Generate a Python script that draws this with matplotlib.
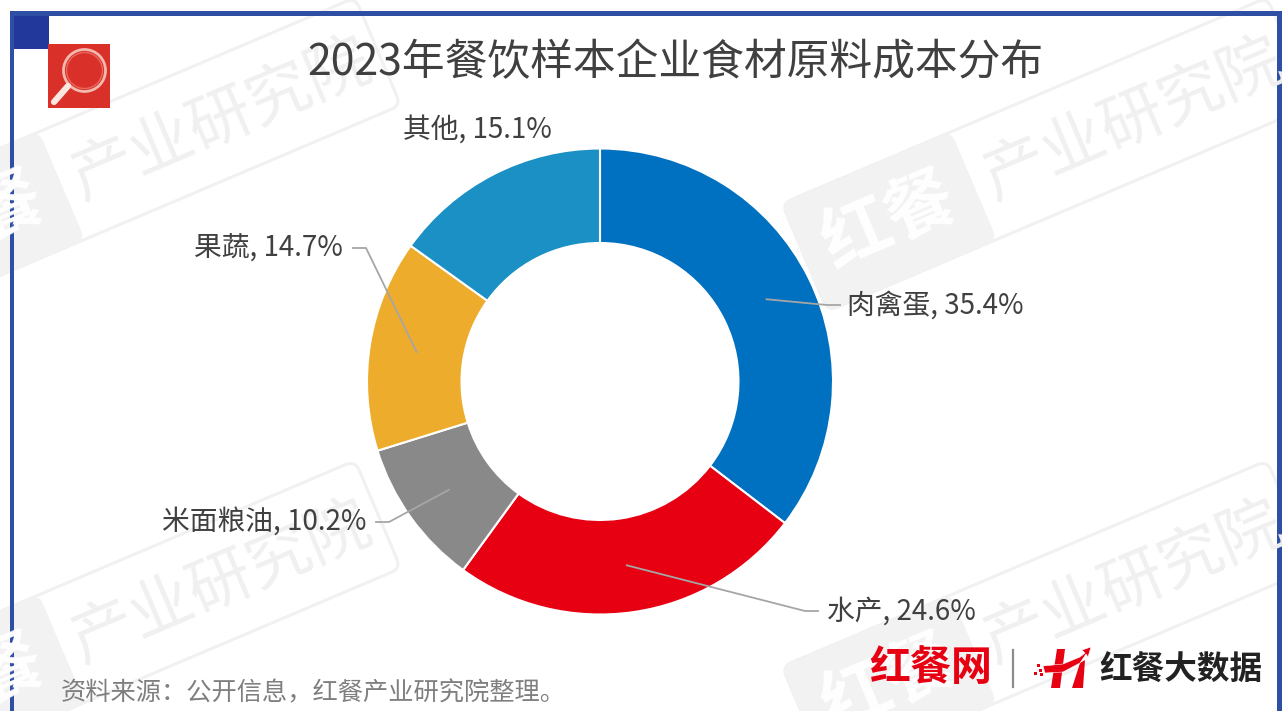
# -*- coding: utf-8 -*-

import numpy as np
import matplotlib
matplotlib.use('Agg')
import matplotlib.pyplot as plt
from matplotlib.patches import Rectangle, Circle, FancyBboxPatch, Polygon
from matplotlib.transforms import Affine2D

plt.rcParams['font.family'] = ['Noto Sans CJK SC', 'DejaVu Sans']

# 数据
categories = ['肉禽蛋', '水产', '米面粮油', '果蔬', '其他']
values = [35.4, 24.6, 10.2, 14.7, 15.1]
colors = ['#0070c0', '#e60012', '#898989', '#edac2c', '#1a90c4']

title = '2023年餐饮样本企业食材原料成本分布'
source = '资料来源：公开信息，红餐产业研究院整理。'

W, H = 1282, 711
CX, CY, R, R_IN = 600, 381.5, 233, 138.5
WM_ANGLE = 23

# 标签位置, 引线终点
label_pos = [(847, 306, 'left'), (827, 612, 'left'), (366, 523, 'right'),
             (343, 249, 'right'), (552, 130, 'right')]
line_ends = [(840, 305), (818, 611), (376, 522), (353, 248), None]

fig = plt.figure(figsize=(W / 100, H / 100), dpi=100)


def pixel_axes(z):
    ax = fig.add_axes([0, 0, 1, 1], zorder=z)
    ax.set_xlim(0, W)
    ax.set_ylim(H, 0)
    ax.axis('off')
    ax.patch.set_alpha(0)
    return ax


bg = pixel_axes(0)
top = pixel_axes(2)


# 水印
def watermark(ax, dx, dy):
    x0, y0 = 782 + dx, 203.5 + dy
    tr = Affine2D().rotate_deg_around(x0, y0, -WM_ANGLE) + ax.transData
    ax.add_patch(FancyBboxPatch((x0, y0), 527, 117, boxstyle='round,pad=0,rounding_size=10',
                                fc='none', ec='#f1f1f1', lw=2.2, transform=tr))
    ax.add_patch(FancyBboxPatch((x0, y0), 183, 117, boxstyle='round,pad=0,rounding_size=10',
                                fc='#f2f2f2', ec='#f2f2f2', lw=1, transform=tr))
    a = np.deg2rad(WM_ANGLE)

    def at(lx, ly):
        return x0 + lx * np.cos(a) + ly * np.sin(a), y0 - lx * np.sin(a) + ly * np.cos(a)
    x, y = at(92, 58)
    ax.text(x, y, '红餐', color='white', fontsize=50, weight='bold', rotation=WM_ANGLE,
            rotation_mode='anchor', ha='center', va='center')
    x, y = at(356, 60)
    ax.text(x, y, '产业研究院', color='#f0f0f0', fontsize=46, weight='medium', rotation=WM_ANGLE,
            rotation_mode='anchor', ha='center', va='center')


for dx, dy in [(-912, 463), (0, 463), (-912, 0), (0, 0)]:
    watermark(bg, dx, dy)

# 边框和角标
BLUE = '#2f4fa5'
bg.add_patch(Rectangle((10, 11), W - 10, 5, fc=BLUE, ec='none'))
bg.add_patch(Rectangle((10, 11), 4, H - 11, fc=BLUE, ec='none'))
bg.add_patch(Rectangle((1277, 11), 5, H - 11, fc=BLUE, ec='none'))
bg.add_patch(Rectangle((14, 16), 35, 33, fc='#22389a', ec='none'))
bg.add_patch(Rectangle((48, 44), 62, 64, fc='#d9302a', ec='none', zorder=3))
bg.add_patch(Circle((84.5, 70.5), 21, fc='none', ec='#f3b9ac', lw=2, zorder=4))
bg.add_patch(Circle((84.5, 70.5), 18, fc='none', ec='#e8685c', lw=1, zorder=4))
bg.plot([68, 54], [86, 102], color='#fbe6e0', lw=4.5, solid_capstyle='round', zorder=4)

# 圆环图
pie_ax = fig.add_axes([(CX - R) / W, 1 - (CY + R) / H, 2 * R / W, 2 * R / H], zorder=1)
pie_ax.pie(values, colors=colors, startangle=90, counterclock=False, radius=1,
           wedgeprops=dict(width=1 - R_IN / R, edgecolor='white', linewidth=1.5))
pie_ax.set_xlim(-1, 1)
pie_ax.set_ylim(-1, 1)

# 标签和引线
mid_r = (R + R_IN) / 2
cum = np.cumsum([0] + values[:-1])
for name, val, c, pos, end in zip(categories, values, cum, label_pos, line_ends):
    top.text(pos[0], pos[1], '%s, %.1f%%' % (name, val), fontsize=20, color='#404040',
             ha=pos[2], va='center')
    if end is not None:
        ang = np.deg2rad((c + val / 2) / sum(values) * 360)
        x0 = CX + mid_r * np.sin(ang)
        y0 = CY - mid_r * np.cos(ang)
        elbow_x = end[0] - 13 if pos[2] == 'left' else end[0] + 13
        top.plot([x0, elbow_x, end[0]], [y0, end[1], end[1]], color='#a6a6a6', lw=1.3)

# 标题和来源
top.text(675, 63, title, fontsize=30.8, color='#404040', ha='center', va='center')
top.text(61, 693, source, fontsize=18.2, color='#7f7f7f', ha='left', va='center')

# 页脚标识
RED = '#e60012'
top.text(931, 668, '红餐网', fontsize=29.5, weight='bold', color=RED, ha='center', va='center')
top.plot([1013, 1013], [650, 687], color='#8c8c8c', lw=1.6)
top.add_patch(Polygon([(1057, 649), (1065, 649), (1060, 688), (1051, 688)], fc=RED, ec='none'))
top.add_patch(Polygon([(1080, 663), (1085, 660), (1083, 688), (1072, 688)], fc=RED, ec='none'))
top.add_patch(Polygon([(1043, 666), (1063, 664), (1080, 657), (1085, 653), (1082, 650), (1091, 647),
                       (1088, 657), (1086, 654), (1080, 663), (1063, 672), (1045, 673)],
                      fc=RED, ec='white', lw=0.4))
for px, py in [(1037, 664), (1034, 672), (1039, 669), (1040, 673)]:
    top.add_patch(Rectangle((px, py), 2.5, 2.5, fc=RED, ec='none'))
top.text(1181, 670, '红餐大数据', fontsize=23.5, weight='bold', color='#222222', ha='center', va='center')

fig.savefig('out.png', dpi=100)
